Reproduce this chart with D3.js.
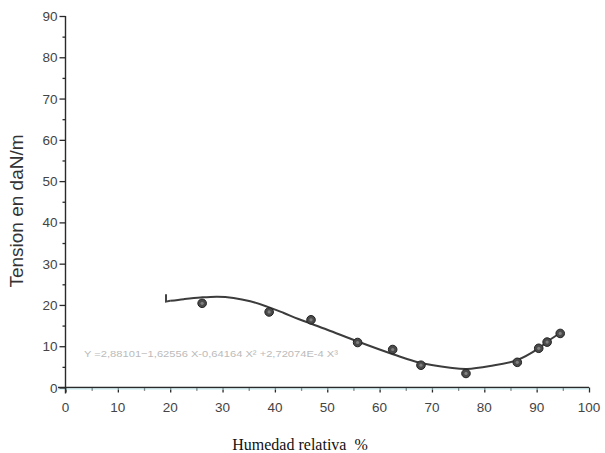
<!DOCTYPE html>
<html>
<head>
<meta charset="utf-8">
<script src="https://cdn.jsdelivr.net/npm/d3@7"></script>
<style>
  html, body { margin: 0; padding: 0; background: #fff; }
  svg { display: block; }
</style>
</head>
<body>
<svg id="chart" width="605" height="453"></svg>
<script>
// ---- data ----
const humedad = [26.1, 38.9, 46.9, 55.8, 62.5, 67.9, 76.5, 86.3, 90.4, 92.0, 94.5];
const tension = [20.4, 18.3, 16.4, 10.9, 9.2, 5.4, 3.4, 6.1, 9.5, 11.0, 13.1];
// fitted curve
const curveX = [19.2, 19.2, 20.0, 22.6, 25.8, 29.0, 32.1, 35.3, 38.5, 41.6, 44.5, 50.0, 55.7, 62.7, 67.7, 73.5, 76.7, 81.1, 86.2, 90.3, 91.9, 94.5];
const curveY = [22.6, 20.8, 21.0, 21.4, 21.8, 22.0, 21.7, 20.9, 19.6, 18.1, 16.6, 14.0, 11.2, 8.0, 6.0, 4.8, 4.5, 5.2, 6.6, 9.4, 11.0, 13.2];
const xTicks = [0, 10, 20, 30, 40, 50, 60, 70, 80, 90, 100];
const yTicks = [0, 10, 20, 30, 40, 50, 60, 70, 80, 90];
const xTitle = "Humedad relativa\u00A0\u00A0%";
const yTitle = "Tension en daN/m";
const equation = "Y =2,88101\u22121,62556 X-0,64164 X\u00B2 +2,72074E-4 X\u00B3";

// ---- layout ----
const svg = d3.select("#chart");
const x = d3.scaleLinear().domain([0, 100]).range([65.5, 589]);
const y = d3.scaleLinear().domain([0, 90]).range([387.5, 16]);
const axisColor = "#2a2a2a";
const labelColor = "#444";

// X axis
const xAxis = svg.append("g").attr("transform", `translate(0,${y(0)})`);
xAxis.call(d3.axisBottom(x).tickValues(d3.range(0, 101, 5)).tickSize(5).tickSizeOuter(0).tickFormat(""));
xAxis.selectAll(".tick line").attr("stroke", axisColor).attr("stroke-width", 1.3)
  .attr("y2", d => d % 10 === 0 ? 5 : 3);
xAxis.select(".domain").remove();
xAxis.append("line").attr("x1", 58).attr("x2", x(100)).attr("stroke", axisColor).attr("stroke-width", 1.4);
xAxis.append("line").attr("x1", 58).attr("x2", x(100)).attr("y1", 1.5).attr("y2", 1.5).attr("stroke", "#bfe9ef").attr("stroke-width", 1);
xAxis.selectAll(".lbl").data(xTicks).join("text")
  .attr("x", d => x(d)).attr("y", 24)
  .attr("text-anchor", "middle")
  .attr("font-family", "Liberation Sans, Arial, sans-serif")
  .attr("font-size", 13.5).attr("fill", labelColor).text(d => d);

// Y axis
const yAxis = svg.append("g").attr("transform", `translate(${x(0)},0)`);
yAxis.call(d3.axisLeft(y).tickValues(d3.range(0, 91, 5)).tickSize(5).tickSizeOuter(0).tickFormat(""));
yAxis.selectAll(".tick line").attr("stroke", axisColor).attr("stroke-width", 1.3)
  .attr("x2", d => d % 10 === 0 ? -6 : -3);
yAxis.select(".domain").remove();
yAxis.append("line").attr("y1", y(90)).attr("y2", y(0) + 6).attr("stroke", axisColor).attr("stroke-width", 1.4);
yAxis.selectAll(".lbl").data(yTicks).join("text")
  .attr("x", -8).attr("y", d => y(d) + 5)
  .attr("text-anchor", "end")
  .attr("font-family", "Liberation Sans, Arial, sans-serif")
  .attr("font-size", 13.5).attr("fill", labelColor).text(d => d);

// Titles
svg.append("text")
  .attr("transform", `translate(23,${211}) rotate(-90)`)
  .attr("text-anchor", "middle")
  .attr("font-family", "Liberation Sans, Arial, sans-serif")
  .attr("font-size", 19).attr("fill", "#333").text(yTitle);

svg.append("text")
  .attr("x", 300).attr("y", 450)
  .attr("text-anchor", "middle")
  .attr("font-family", "Liberation Serif, Times New Roman, serif")
  .attr("font-size", 16).attr("fill", "#111").text(xTitle);

// Equation
svg.append("text")
  .attr("x", 84).attr("y", 357)
  .attr("font-family", "Liberation Sans, Arial, sans-serif")
  .attr("font-size", 9.5).attr("fill", "#bbb")
  .attr("textLength", 254).attr("lengthAdjust", "spacingAndGlyphs")
  .text(equation);

// Curve
const curvePts = curveX.map((d, i) => [d, curveY[i]]);
const line = d3.line().x(d => x(d[0])).y(d => y(d[1])).curve(d3.curveLinear);
const smooth = d3.line().x(d => x(d[0])).y(d => y(d[1])).curve(d3.curveCatmullRom);
svg.append("path").attr("d", line(curvePts.slice(0, 3)))
  .attr("fill", "none").attr("stroke", "#444").attr("stroke-width", 2);
svg.append("path").attr("d", smooth(curvePts.slice(2)))
  .attr("fill", "none").attr("stroke", "#3c3c3c").attr("stroke-width", 2);

// Points
const pts = humedad.map((d, i) => [d, tension[i]]);
svg.selectAll(".pt").data(pts).join("circle")
  .attr("cx", d => x(d[0])).attr("cy", d => y(d[1])).attr("r", 4.3)
  .attr("fill", "#4a4a4a").attr("stroke", "#222").attr("stroke-width", 1);
svg.selectAll(".pti").data(pts).join("circle")
  .attr("cx", d => x(d[0])).attr("cy", d => y(d[1])).attr("r", 1.6)
  .attr("fill", "#808080");
</script>
</body>
</html>
